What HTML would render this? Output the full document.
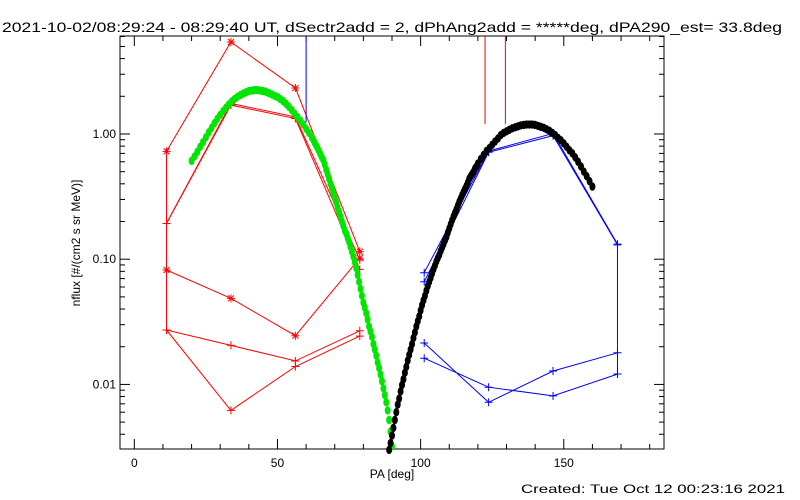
<!DOCTYPE html>
<html><head><meta charset="utf-8">
<style>
html,body{margin:0;padding:0;background:#fff;width:800px;height:500px;overflow:hidden}
svg text{font-family:"Liberation Sans",sans-serif;fill:#000}
</style></head>
<body>
<svg id="chart" width="800" height="500" xmlns="http://www.w3.org/2000/svg">
<rect width="800" height="500" fill="#fff"/>
<text x="2" y="32" font-size="14" textLength="780" lengthAdjust="spacingAndGlyphs">2021-10-02/08:29:24 - 08:29:40 UT, dSectr2add = 2, dPhAng2add = *****deg, dPA290_est= 33.8deg</text>
<text transform="translate(80,243) rotate(-90)" text-anchor="middle" font-size="12">nflux [#/(cm2 s sr MeV)]</text>
<text x="392" y="478" text-anchor="middle" font-size="12">PA [deg]</text>
<text x="521" y="493" font-size="12" textLength="264" lengthAdjust="spacingAndGlyphs">Created: Tue Oct 12 00:23:16 2021</text>
<g id="axes"></g>
<g id="marks"></g>
</svg>
<script>
// ---- data ----
const xTicks = [0, 50, 100, 150];
const xTickLabels = ["0", "50", "100", "150"];
const yTicks = [1, 0.1, 0.01];
const yTickLabels = ["1.00", "0.10", "0.01"];
const redPA = [11.25, 33.75, 56.25, 78.75];
const redA = [0.727, 5.43, 2.33, 0.115];
const redB = [0.193, 1.75, 1.37, 0.099];
const redC = [0.193, 1.70, 1.33, 0.083];
const redD = [0.082, 0.0487, 0.0245, 0.102];
const redE = [0.0272, 0.0205, 0.0154, 0.0268];
const redF = [0.0272, 0.0062, 0.0139, 0.0243];
const bluePA = [101.25, 123.75, 146.25, 168.75];
const blueG = [0.078, 0.73, 1.01, 0.132];
const blueH = [0.066, 0.714, 0.97, 0.13];
const blueI = [0.0214, 0.0072, 0.0128, 0.0179];
const blueJ = [0.0162, 0.0095, 0.0081, 0.0121];
const greenPA = [20,21,22,23,24,25,26,27,28,29,30,31,32,33,34,35,36,37,38,39,40,41,42,43,44,45,46,47,48,49,50,51,52,53,54,55,56,57,58,59,60,61,
  62,62.5,63,63.5,64,64.5,65,65.5,66,66.5,67,67.5,68,68.5,69,69.5,70,70.5,71,71.5,72,72.5,73,73.5,74,74.5,75,75.5,76,76.5,77,77.5,78,78.5,79,79.5,80,80.5,81,81.5,82,82.5,83,83.5,84,84.5,85,85.5,86,86.5,87,87.5,88,88.5,89,89.5,90];
const greenVal = [0.61,0.66,0.72,0.79,0.86,0.94,1.03,1.12,1.22,1.32,1.42,1.52,1.62,1.72,1.82,1.9,1.98,2.04,2.1,2.15,2.2,2.22,2.24,2.24,2.22,2.2,2.17,2.12,2.07,2.02,1.97,1.9,1.83,1.74,1.65,1.55,1.45,1.36,1.28,1.19,1.1,1.02,
  0.94,0.90,0.85,0.81,0.77,0.73,0.69,0.65,0.62,0.57,0.52,0.48,0.44,0.40,0.37,0.34,0.31,0.285,0.26,0.24,0.22,0.20,0.185,0.17,0.16,0.148,0.138,0.126,0.115,0.105,0.095,0.085,0.075,0.066,0.058,0.051,0.045,0.041,0.037,0.033,0.029,0.0265,0.024,0.021,0.019,0.017,0.015,0.0135,0.012,0.0106,0.0093,0.0082,0.0072,0.0062,0.0052,0.0042,0.0032];
const blackPA = [89,89.5,90,90.5,91,91.5,92,92.5,93,93.5,94,94.5,95,95.5,96,96.5,97,97.5,98,98.5,99,99.5,100,100.5,101,101.5,102,102.5,103,103.5,104,104.5,105,105.5,106,106.5,107,107.5,108,108.5,109,109.5,110,110.5,111,111.5,112,112.5,113,113.5,114,114.5,115,115.5,116,116.5,117,117.5,118,118.5,119,119.5,120,
  121,122,123,124,125,126,127,128,129,130,131,132,133,134,135,136,137,138,139,140,141,142,143,144,145,146,147,148,149,150,151,152,153,154,155,156,157,158,159,160];
const blackVal = [0.0030,0.0034,0.0039,0.0045,0.0052,0.006,0.0069,0.0077,0.0088,0.0099,0.011,0.0124,0.0138,0.0155,0.0172,0.019,0.021,0.0235,0.026,0.029,0.032,0.035,0.039,0.043,0.047,0.051,0.056,0.061,0.066,0.071,0.077,0.083,0.089,0.096,0.102,0.108,0.116,0.124,0.132,0.141,0.15,0.163,0.176,0.19,0.205,0.22,0.235,0.25,0.268,0.288,0.305,0.325,0.345,0.365,0.385,0.41,0.44,0.46,0.48,0.5,0.53,0.55,0.58,
  0.63,0.68,0.73,0.77,0.82,0.87,0.92,0.98,1.02,1.05,1.08,1.11,1.13,1.15,1.17,1.18,1.19,1.19,1.19,1.18,1.16,1.14,1.12,1.09,1.06,1.02,0.98,0.93,0.89,0.84,0.79,0.74,0.70,0.65,0.60,0.55,0.50,0.46,0.42,0.38];
const blueMarkerPA = [60];
const blueMarkerVal = [1.24];
const redMarkerPA = [122.5, 129.6];
const redMarkerVal = [1.2, 1.2];

// ---- scales ----
const L=120,R=664,T=36,B=449, xMin=-5, xMax=185;
const yLogMin=Math.log10(0.00305), yLogMax=Math.log10(6.06);
const sx=v=>L+(v-xMin)/(xMax-xMin)*(R-L);
const sy=v=>B-(Math.log10(v)-yLogMin)/(yLogMax-yLogMin)*(B-T);
const NS="http://www.w3.org/2000/svg";
const axes=document.getElementById('axes'), marks=document.getElementById('marks');
function mk(tag,attrs,parent){const e=document.createElementNS(NS,tag);for(const k in attrs)e.setAttribute(k,attrs[k]);parent.appendChild(e);return e;}

let fr=mk('rect',{x:L,y:T,width:R-L,height:B-T,fill:'none',stroke:'#000','stroke-width':1},axes);


for(let v=0;v<=180;v+=10){
  const major=v%50===0, len=major?10:5, x=sx(v);
  let t1=mk('line',{x1:x,y1:B,x2:x,y2:B-len,stroke:'#000'},axes);
  
  
  let t2=mk('line',{x1:x,y1:T,x2:x,y2:T+len,stroke:'#000'},axes);
  
  
}
xTicks.forEach((v,i)=>{
  let t=mk('text',{x:sx(v),y:B+18,'text-anchor':'middle','font-size':12},axes);
  t.textContent=xTickLabels[i];
  
  
});
for(let d=-3;d<=0;d++){
  for(let m=1;m<=9;m++){
    const v=m*Math.pow(10,d); if(v<0.00305||v>6.06)continue;
    const len=m===1?10:5, y=sy(v);
    let a=mk('line',{x1:L,y1:y,x2:L+len,y2:y,stroke:'#000'},axes);
    
    
    let b=mk('line',{x1:R,y1:y,x2:R-len,y2:y,stroke:'#000'},axes);
    
    
  }
}
yTicks.forEach((v,i)=>{
  let t=mk('text',{x:L-4,y:sy(v)+4,'text-anchor':'end','font-size':12},axes);
  t.textContent=yTickLabels[i];
  
  
});

function series(xs,ys,color,sym,name){
  const pts=xs.map((x,i)=>sx(x).toFixed(1)+','+sy(ys[i]).toFixed(1)).join(' ');
  let p=mk('polyline',{points:pts,fill:'none',stroke:color,'stroke-width':1},marks);
  
  
  xs.forEach((x,i)=>{
    const cx=sx(x),cy=sy(ys[i]);
    let d=`M${cx-4},${cy}H${cx+4}M${cx},${cy-4}V${cy+4}`;
    if(sym==='*') d+=`M${cx-3},${cy-3}L${cx+3},${cy+3}M${cx-3},${cy+3}L${cx+3},${cy-3}`;
    let m=mk('path',{d:d,stroke:color,'stroke-width':1,fill:'none'},marks);
    
    
  });
}
series(redPA,redA,'#f00','*','red-series-a');
series(redPA,redB,'#f00','+','red-series-b');
series(redPA,redC,'#f00','+','red-series-c');
series(redPA,redD,'#f00','*','red-series-d');
series(redPA,redE,'#f00','+','red-series-e');
series(redPA,redF,'#f00','+','red-series-f');
series(bluePA,blueG,'#00f','+','blue-series-g');
series(bluePA,blueH,'#00f','+','blue-series-h');
series(bluePA,blueI,'#00f','+','blue-series-i');
series(bluePA,blueJ,'#00f','+','blue-series-j');
let v1=mk('line',{x1:sx(redPA[0]),y1:sy(redA[0]),x2:sx(redPA[0]),y2:sy(redE[0]),stroke:'#f00'},marks);


let v2=mk('line',{x1:sx(bluePA[3]),y1:sy(blueG[3]),x2:sx(bluePA[3]),y2:sy(blueJ[3]),stroke:'#00f'},marks);


blueMarkerPA.forEach((x,i)=>{
  let l=mk('line',{x1:sx(x),y1:T,x2:sx(x),y2:sy(blueMarkerVal[i]),stroke:'#00f'},marks);
  
  
});
redMarkerPA.forEach((x,i)=>{
  let l=mk('line',{x1:sx(x),y1:T,x2:sx(x),y2:sy(redMarkerVal[i]),stroke:'#f00'},marks);
  
  
});
function dots(xs,ys,color,name){
  xs.forEach((x,i)=>{
    let c=mk('ellipse',{cx:sx(x),cy:sy(ys[i]),rx:3,ry:4.2,fill:color},marks);
    
    
  });
}
dots(greenPA,greenVal,'#00e600','green-fit-dot');
dots(blackPA,blackVal,'#000','black-fit-dot');
</script>
</body></html>
